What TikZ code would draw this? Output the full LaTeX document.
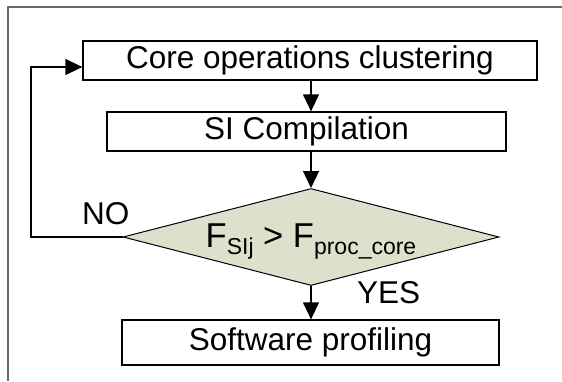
\documentclass[tikz,border=0pt]{standalone}
\usepackage{fontspec}
\setmainfont{Liberation Sans}
\usetikzlibrary{arrows.meta,shapes.geometric}
\definecolor{framegray}{RGB}{105,105,105}
\definecolor{decfill}{RGB}{221,224,202}
\begin{document}
\begin{tikzpicture}[x=1pt,y=-1pt,
  font=\fontsize{31.5}{36}\selectfont,
  stepbox/.style={draw=black,line width=1.3pt,rectangle,inner sep=0pt,fill=white},
  decbox/.style={draw=black,line width=1pt,diamond,inner sep=0pt,fill=decfill},
  flow/.style={line width=1.3pt,-{Triangle[length=17pt,width=16pt]}},
  lbl/.style={inner sep=0pt,anchor=base west}]
  \useasboundingbox (0,0) rectangle (562,381);
  % partial frame (top and left edges)
  \draw[framegray,line width=1.3pt] (8,381) -- (8,7) -- (562,7);

  % process steps
  \node[stepbox,minimum width=454pt,minimum height=39pt] (b1) at (310,60.5) {Core operations clustering};
  \node[stepbox,minimum width=399pt,minimum height=39pt] (b2) at (306.5,131.5) {SI Compilation};
  \node[decbox,minimum width=376pt,minimum height=97pt] (dec) at (311,237) {};
  \node[stepbox,minimum width=377pt,minimum height=45pt] (b3) at (310.5,342.5) {Software profiling};

  % condition text inside the decision
  \node[inner sep=0pt,anchor=base] (cond) at (311,247)
    {\fontsize{34.5}{40}\selectfont F\raisebox{-7pt}{\fontsize{23}{26}\selectfont SIj} {>} F\raisebox{-7pt}{\fontsize{23}{26}\selectfont proc\_core}};

  % connectors
  \draw[flow] (b1.south -| dec.north) -- (b2.north -| dec.north);
  \draw[flow] (b2.south -| dec.north) -- (dec.north);
  \draw[flow] (dec.south) -- (dec.south |- b3.north);
  \coordinate (loopc) at (31,67);
  \draw[flow] (dec.west) -- (dec.west -| loopc) -- (loopc) -- (loopc -| b1.west);

  % branch labels
  \node[lbl] (no) at (82,224) {NO};
  \node[lbl] (yes) at (357,303) {YES};
\end{tikzpicture}
\end{document}
